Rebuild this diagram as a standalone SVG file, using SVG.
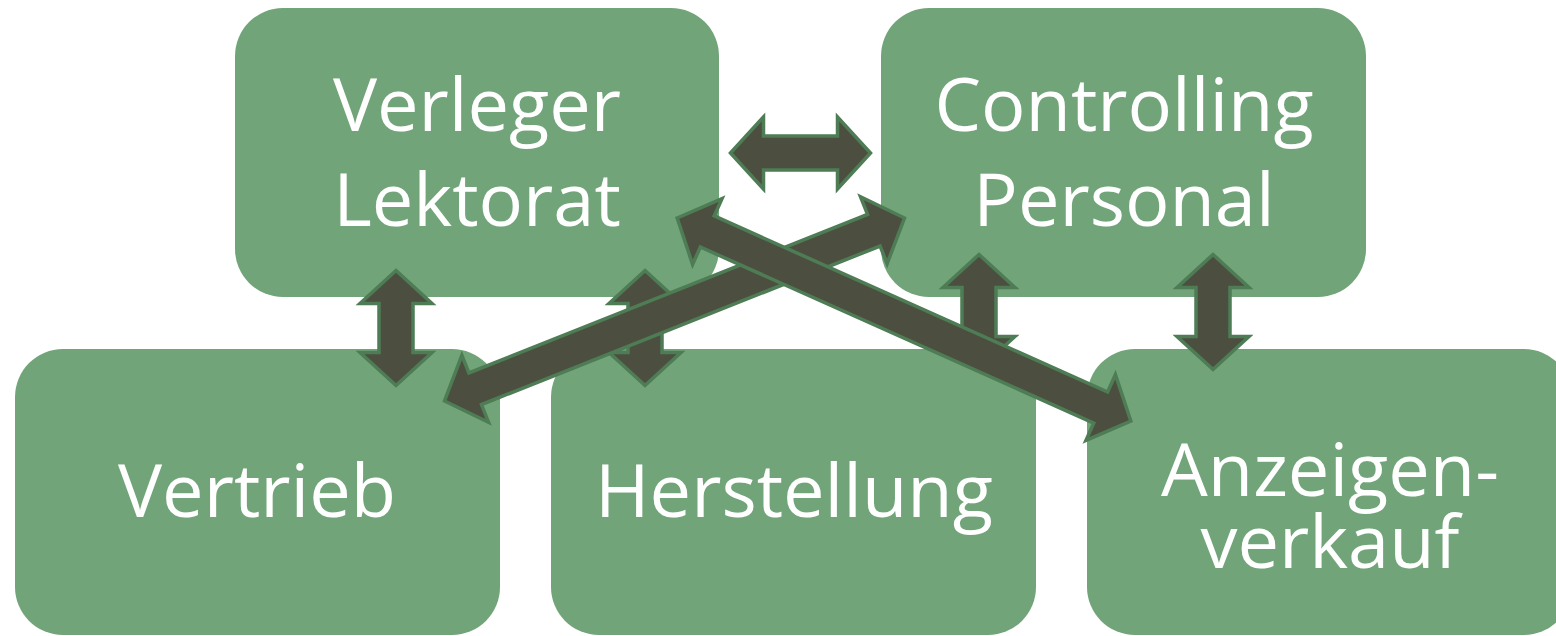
<svg xmlns="http://www.w3.org/2000/svg" width="1556" height="636" viewBox="0 0 1556 636">
  <style>
    .box { fill: #71A478; }
    .lbl { fill: #FFFFFF; font-family: "Open Sans", "Noto Sans", sans-serif; font-size: 74px; text-anchor: middle; }
    .arr { fill: #4C4F40; stroke: #4E7C55; stroke-width: 3.5; stroke-linejoin: miter; }
  </style>
  <rect width="1556" height="636" fill="#FFFFFF"/>
  <g id="node-verleger">
    <rect class="box" x="235" y="8" width="484" height="289" rx="48" ry="48"/>
    <text class="lbl" x="477" y="131">Verleger</text>
    <text class="lbl" x="477" y="226">Lektorat</text>
  </g>
  <g id="node-controlling">
    <rect class="box" x="881" y="8" width="485" height="289" rx="48" ry="48"/>
    <text class="lbl" x="1124" y="131">Controlling</text>
    <text class="lbl" x="1124" y="226">Personal</text>
  </g>
  <g id="node-vertrieb">
    <rect class="box" x="15" y="349" width="485" height="286" rx="48" ry="48"/>
    <text class="lbl" x="257" y="517">Vertrieb</text>
  </g>
  <g id="node-herstellung">
    <rect class="box" x="551" y="349" width="485" height="286" rx="48" ry="48"/>
    <text class="lbl" x="794" y="517">Herstellung</text>
  </g>
  <g id="node-anzeigen">
    <rect class="box" x="1087" y="349" width="485" height="286" rx="48" ry="48"/>
    <text class="lbl" x="1330" y="496">Anzeigen-</text>
    <text class="lbl" x="1330" y="568">verkauf</text>
  </g>
  <g id="connectors">
    <polygon class="arr" transform="translate(800.5,153)" points="-70,0 -37,-36 -37,-17 37,-17 37,-36 70,0 37,36 37,17 -37,17 -37,36"/>
    <polygon class="arr" transform="translate(396,328) rotate(90)" points="-57.5,0 -24.5,-36 -24.5,-17 24.5,-17 24.5,-36 57.5,0 24.5,36 24.5,17 -24.5,17 -24.5,36"/>
    <polygon class="arr" transform="translate(645,328) rotate(90)" points="-57.5,0 -24.5,-36 -24.5,-17 24.5,-17 24.5,-36 57.5,0 24.5,36 24.5,17 -24.5,17 -24.5,36"/>
    <polygon class="arr" transform="translate(979,312) rotate(90)" points="-57.5,0 -24.5,-36 -24.5,-17 24.5,-17 24.5,-36 57.5,0 24.5,36 24.5,17 -24.5,17 -24.5,36"/>
    <polygon class="arr" transform="translate(1213,312) rotate(90)" points="-57.5,0 -24.5,-36 -24.5,-17 24.5,-17 24.5,-36 57.5,0 24.5,36 24.5,17 -24.5,17 -24.5,36"/>
    <polygon class="arr" transform="translate(674.5,309.5) rotate(-21.69)" points="-247.5,0 -214.5,-36 -214.5,-17 214.5,-17 214.5,-36 247.5,0 214.5,36 214.5,17 -214.5,17 -214.5,36"/>
    <polygon class="arr" transform="translate(904,319.5) rotate(24.11)" points="-248.5,0 -215.5,-36 -215.5,-17 215.5,-17 215.5,-36 248.5,0 215.5,36 215.5,17 -215.5,17 -215.5,36"/>
  </g>
</svg>
